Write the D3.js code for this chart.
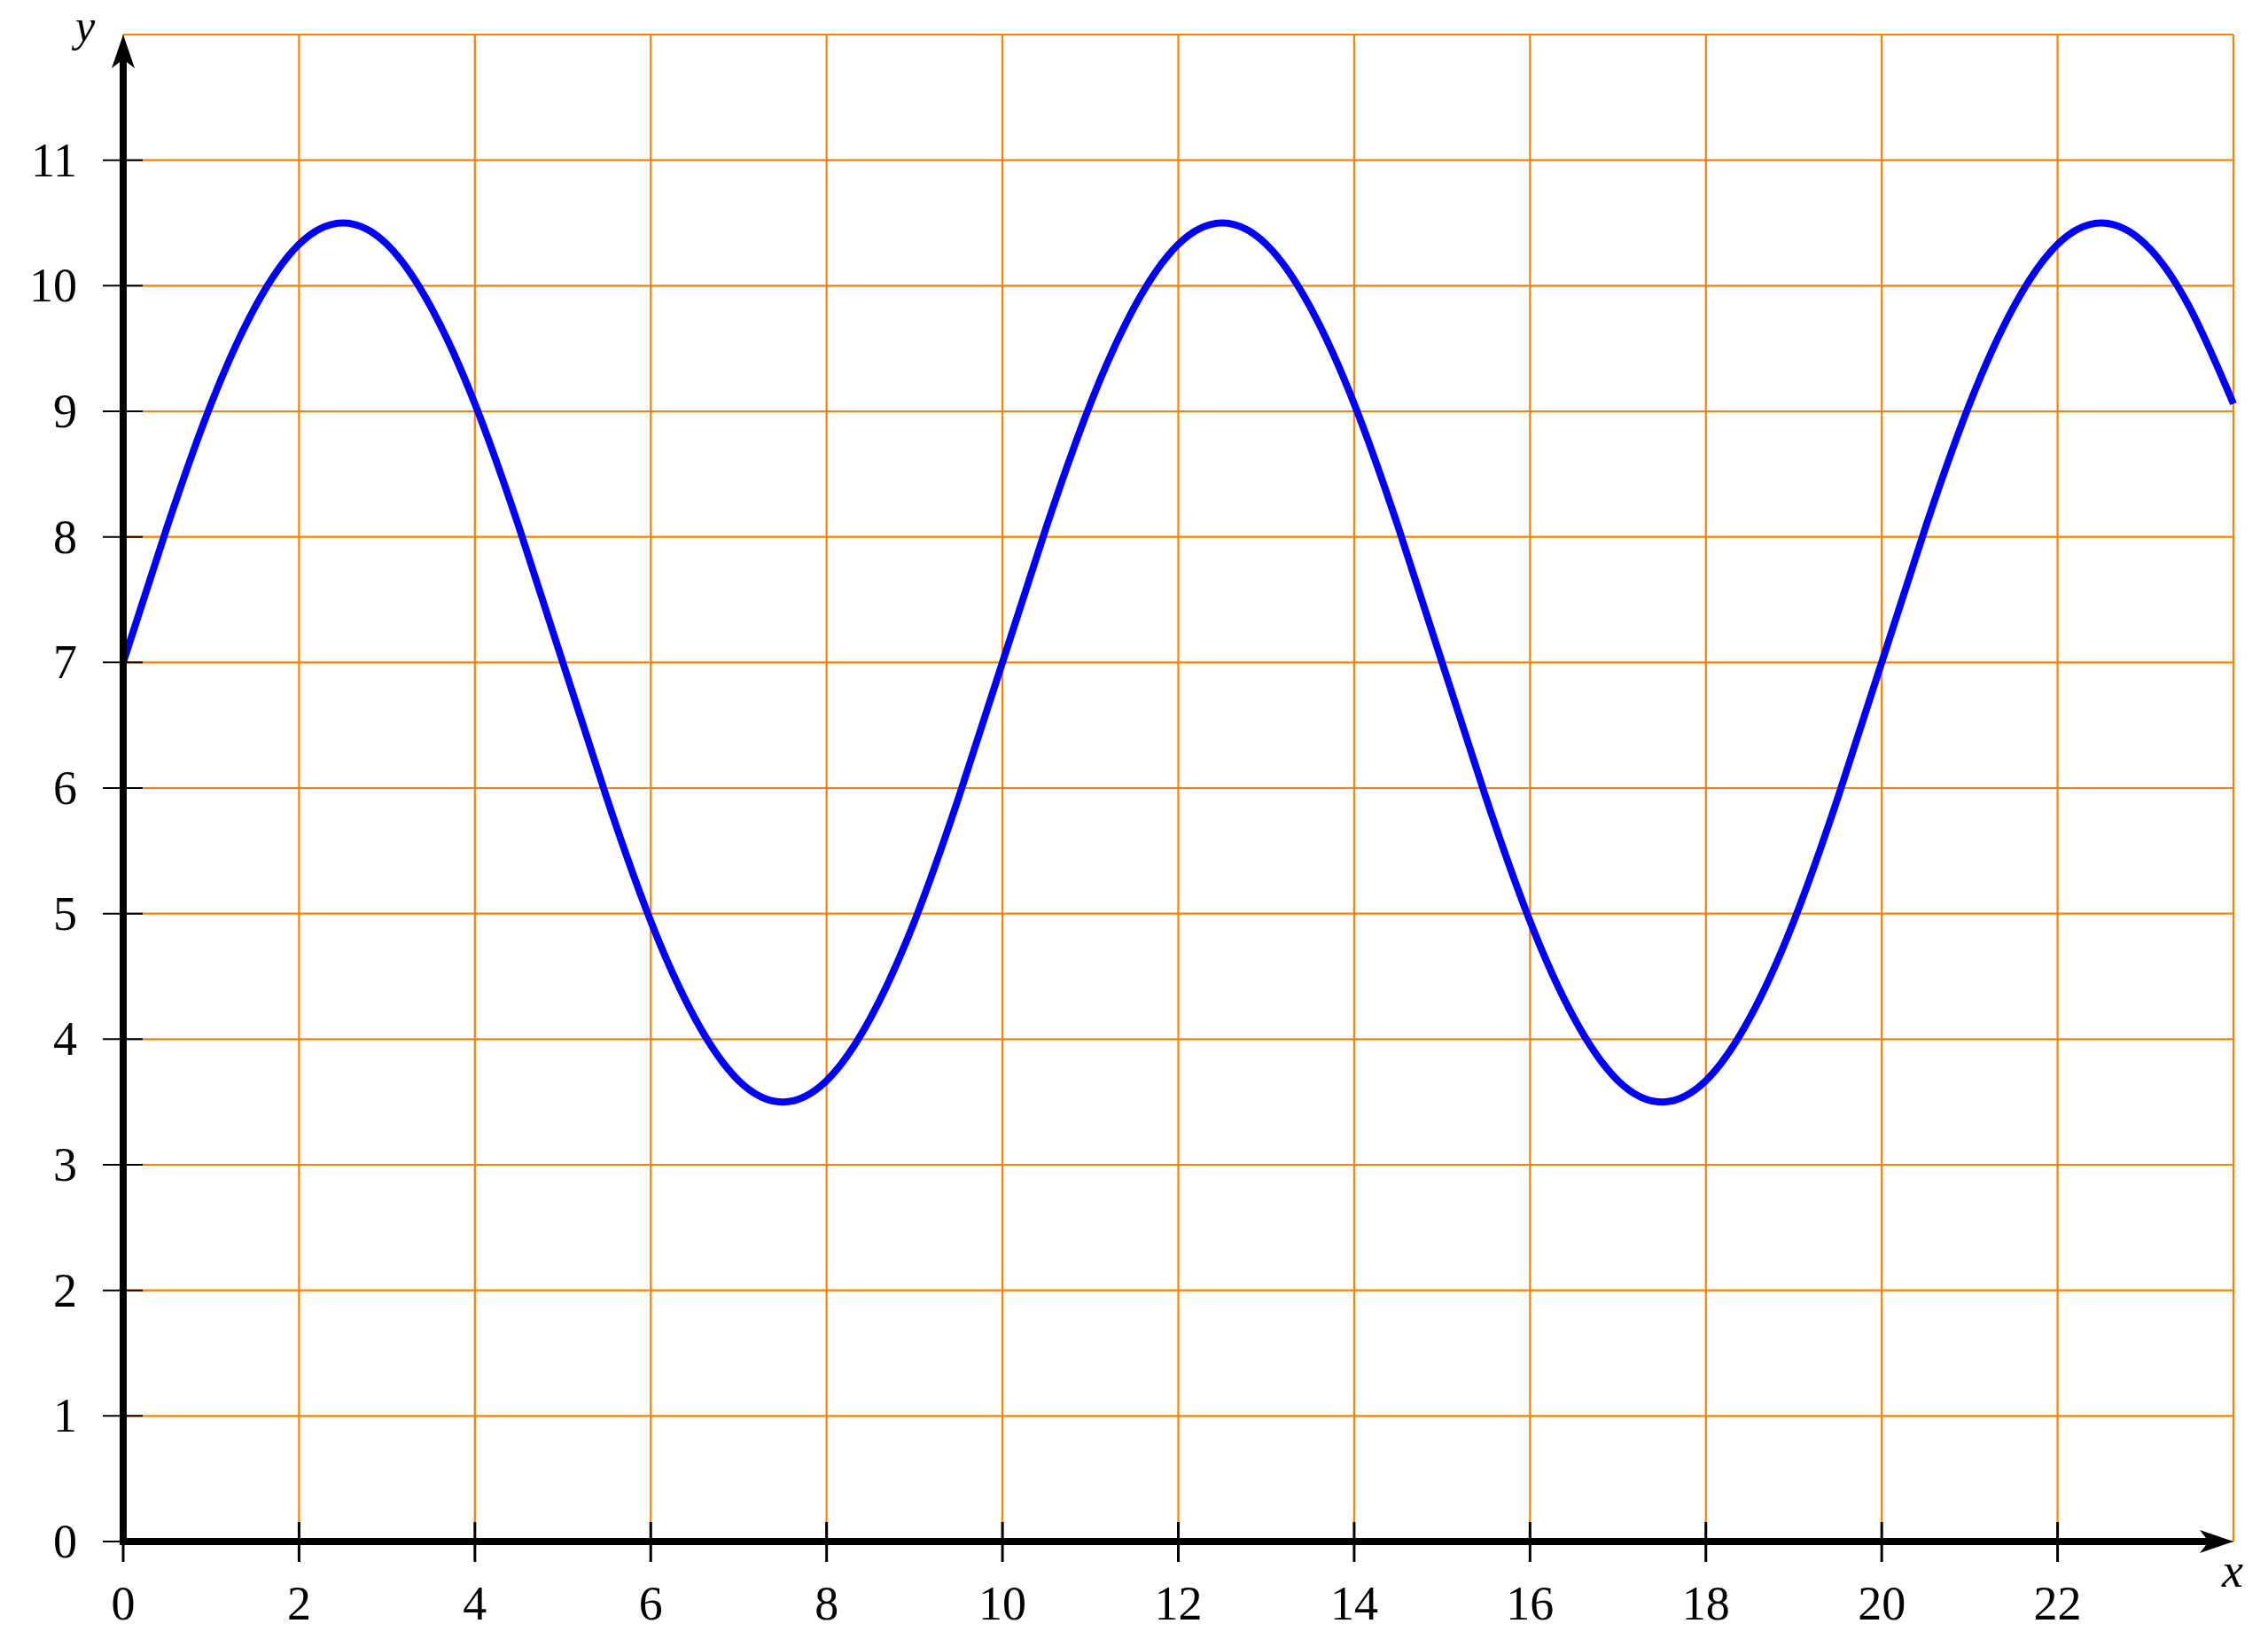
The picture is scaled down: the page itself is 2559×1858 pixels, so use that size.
<!DOCTYPE html>
<html>
<head>
<meta charset="utf-8">
<script src="https://cdn.jsdelivr.net/npm/d3@7"></script>
<style>
html,body{margin:0;padding:0;background:#fff;}
svg{display:block;}
text{font-family:"Liberation Serif","DejaVu Serif",serif;}
</style>
</head>
<body>
<svg id="chart" width="2559" height="1858"></svg>
<script>
// Data
const xValues = [0,0.5,1,1.5,2,2.5,3,3.5,4,4.5,5,5.5,6,6.5,7,7.5,8,8.5,9,9.5,10,10.5,11,11.5,12,12.5,13,13.5,14,14.5,15,15.5,16,16.5,17,17.5,18,18.5,19,19.5,20,20.5,21,21.5,22,22.5,23,23.5,24];
const yValues = [7,8.08,9.06,9.83,10.33,10.5,10.33,9.83,9.06,8.08,7,5.92,4.94,4.17,3.67,3.5,3.67,4.17,4.94,5.92,7,8.08,9.06,9.83,10.33,10.5,10.33,9.83,9.06,8.08,7,5.92,4.94,4.17,3.67,3.5,3.67,4.17,4.94,5.92,7,8.08,9.06,9.83,10.33,10.5,10.33,9.83,9.06];
const xTickLabels = [0,2,4,6,8,10,12,14,16,18,20,22];
const yTickLabels = [0,1,2,3,4,5,6,7,8,9,10,11];
const xGrid = [0,2,4,6,8,10,12,14,16,18,20,22,24];
const yGrid = [0,1,2,3,4,5,6,7,8,9,10,11,12];
const xDomain = [0,24];
const yDomain = [0,12];

const svg = d3.select("#chart");
const x = d3.scaleLinear().domain(xDomain).range([139,2520]);
const y = d3.scaleLinear().domain(yDomain).range([1739,39]);

const orange = "#ff8000";

// grid
svg.append("g").selectAll("line.v").data(xGrid).join("line")
  .attr("x1", d=>x(d)).attr("x2", d=>x(d))
  .attr("y1", y(0)).attr("y2", y(12))
  .attr("stroke", orange).attr("stroke-width", 2.2);
svg.append("g").selectAll("line.h").data(yGrid).join("line")
  .attr("y1", d=>y(d)).attr("y2", d=>y(d))
  .attr("x1", x(0)).attr("x2", x(24))
  .attr("stroke", orange).attr("stroke-width", 2.2);

// curve
const pts = xValues.map((v,i)=>[v,yValues[i]]);
svg.append("path")
  .datum(pts)
  .attr("d", d3.line().x(d=>x(d[0])).y(d=>y(d[1])).curve(d3.curveNatural))
  .attr("fill","none").attr("stroke","#0000ff").attr("stroke-width",8)
  .attr("stroke-linejoin","round");

// ticks
svg.append("g").selectAll("line").data(xTickLabels).join("line")
  .attr("x1", d=>x(d)).attr("x2", d=>x(d))
  .attr("y1", y(0)-22).attr("y2", y(0)+23)
  .attr("stroke","#000").attr("stroke-width",3);
svg.append("g").selectAll("line").data(yTickLabels).join("line")
  .attr("y1", d=>y(d)).attr("y2", d=>y(d))
  .attr("x1", x(0)-23).attr("x2", x(0)+22)
  .attr("stroke","#000").attr("stroke-width",2);

// axes
svg.append("line").attr("x1", x(0)).attr("x2", x(24)-20).attr("y1", y(0)).attr("y2", y(0))
  .attr("stroke","#000").attr("stroke-width",8);
svg.append("line").attr("x1", x(0)).attr("x2", x(0)).attr("y1", y(0)+4).attr("y2", y(12)+20)
  .attr("stroke","#000").attr("stroke-width",8);

// arrowheads (stealth)
const ax = x(24), ay = y(0);
svg.append("path")
  .attr("d", `M${ax},${ay} L${ax-38},${ay-13} L${ax-28},${ay} L${ax-38},${ay+13} Z`)
  .attr("fill","#000");
const bx = x(0), by = y(12);
svg.append("path")
  .attr("d", `M${bx},${by} L${bx-13},${by+38} L${bx},${by+28} L${bx+13},${by+38} Z`)
  .attr("fill","#000");

// tick labels
svg.append("g").selectAll("text").data(xTickLabels).join("text")
  .attr("x", d=>x(d)).attr("y", y(0)+88)
  .attr("text-anchor","middle").attr("font-size",54)
  .text(d=>d);
svg.append("g").selectAll("text").data(yTickLabels).join("text")
  .attr("x", 87).attr("y", d=>y(d)+18)
  .attr("text-anchor","end").attr("font-size",54)
  .text(d=>d);

// axis labels
svg.append("text").attr("x", 2519).attr("y", 1790).attr("text-anchor","middle")
  .attr("font-size",54).attr("font-style","italic").text("x");
svg.append("text").attr("x", 96).attr("y", 46).attr("text-anchor","middle")
  .attr("font-size",50).attr("font-style","italic").text("y");
</script>
</body>
</html>
